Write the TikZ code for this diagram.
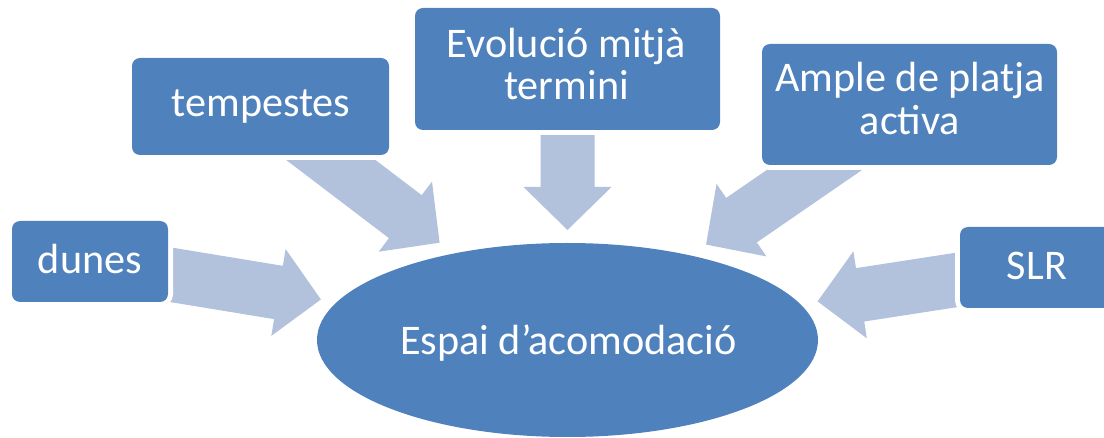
\documentclass[tikz,border=0pt]{standalone}
\usepackage{fontspec}
\setmainfont{Carlito}
\usetikzlibrary{calc,shapes.geometric,backgrounds}
\definecolor{boxblue}{HTML}{4F81BD}
\definecolor{arrowblue}{HTML}{B2C1DC}
\newcommand\blockarrow[2]{%
  \coordinate (hb) at ($(#2)!43pt!(#1)$);
  \fill[arrowblue] ($(#1)!27pt!90:(#2)$) -- ($(hb)!27pt!90:(#2)$) -- ($(hb)!44pt!90:(#2)$) -- (#2)
    -- ($(hb)!44pt!-90:(#2)$) -- ($(hb)!27pt!-90:(#2)$) -- ($(#1)!27pt!-90:(#2)$) -- cycle;}
\begin{document}
\begin{tikzpicture}[x=1pt,y=-1pt,
  box/.style={fill=boxblue, rounded corners=8pt, inner sep=0pt, preaction={draw=white, line width=10pt}},
  lbl/.style={text=white, font=\fontsize{42.2}{42}\selectfont, inner sep=0pt, anchor=base}]
\useasboundingbox (0,0) rectangle (1104,438);
% boxes
\node[box, minimum width=156pt, minimum height=81pt] (dunesbox) at (90,261.5) {};
\node[box, minimum width=257pt, minimum height=97pt] (tempbox) at (260.5,106.5) {};
\node[box, minimum width=305pt, minimum height=122pt] (evobox) at (567.5,69) {};
\node[box, minimum width=295pt, minimum height=121pt] (amplebox) at (909.5,104.5) {};
\node[box, minimum width=154pt, minimum height=81pt] (slrbox) at (1037,267.5) {};
\node[ellipse, fill=boxblue, inner sep=0pt, minimum width=501pt, minimum height=194pt] (esp) at (567.5,340) {};
% texts
\node[lbl] (dunes) at (90,274) {dunes};
\node[lbl] (temp) at (261,116.7) {tempestes};
\node[lbl] (evoA) at (566.5,57.3) {Evolució mitjà};
\node[lbl] (evoB) at (566.5,99.3) {termini};
\node[lbl] (ampA) at (910,92) {Ample de platja};
\node[lbl] (ampB) at (910,135) {activa};
\node[lbl] (slr) at (1037,280) {SLR};
\node[lbl] (espt) at (568.5,355) {Espai d’acomodació};
% arrows
\begin{scope}[on background layer]
  \fill[white] (0,0) rectangle (1104,438);
  \coordinate (tipD) at ($(dunesbox.center)!234pt!(esp.center)$);
  \coordinate (tipT) at ($(tempbox.center)!225pt!(esp.center)$);
  \coordinate (tipE) at ($(evobox.center)!161pt!(esp.center)$);
  \coordinate (tipA) at ($(amplebox.center)!247pt!(esp.center)$);
  \coordinate (tipS) at ($(slrbox.center)!222pt!(esp.center)$);
  \blockarrow{dunesbox.center}{tipD}
  \blockarrow{tempbox.center}{tipT}
  \blockarrow{evobox.center}{tipE}
  \blockarrow{amplebox.center}{tipA}
  \blockarrow{slrbox.center}{tipS}
\end{scope}
\end{tikzpicture}
\end{document}
